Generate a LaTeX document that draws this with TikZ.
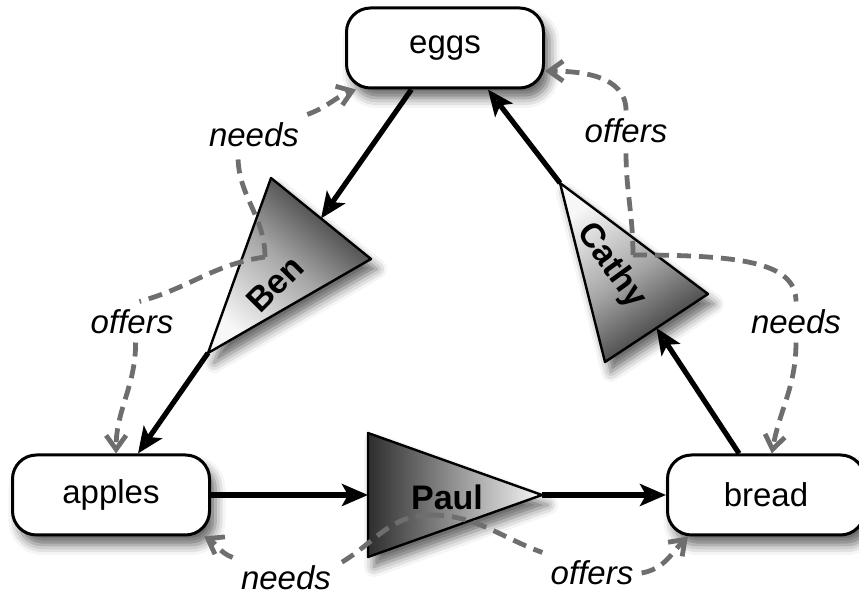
\documentclass[tikz,border=0pt]{standalone}
\usepackage{fontspec}
\setmainfont{Liberation Sans}
\usetikzlibrary{positioning,arrows.meta,shadows.blur}

\begin{document}
\begin{tikzpicture}[
  x=0.5pt, y=0.5pt,
  % Node Styles
  goods/.style={rectangle, rounded corners=12pt, draw, line width=1.5pt, fill=white, minimum width=98.5pt, minimum height=40pt, align=center, font=\fontsize{16.5}{19}\selectfont, blur shadow={shadow xshift=3pt, shadow yshift=-5pt, shadow blur radius=5pt, shadow opacity=60}},
  trader/.style={draw, line width=1.2pt, line join=round, blur shadow={shadow xshift=3pt, shadow yshift=-5pt, shadow blur radius=5pt, shadow opacity=60}},
  tradername/.style={font=\fontsize{17}{20}\selectfont\bfseries, inner sep=0pt},
  role/.style={font=\fontsize{16.5}{19}\selectfont\itshape, inner sep=4pt},
  % Arrow Styles
  flow/.style={-{Stealth[length=13pt, width=11pt, inset=3pt]}, line width=2.6pt},
  link/.style={draw=black!57, line width=2.4pt, dash pattern=on 7pt off 4pt},
  linkto/.style={link, -{Straight Barb[length=7pt, width=10pt]}},
]
\useasboundingbox (0,0) rectangle (859,594);

% goods
\node[goods] (eggs) at (445,546) {eggs};
\node[goods] (apples) at (111,99) {apples};
\node[goods] (bread) at (766,99) {bread};

% traders
\coordinate (ben-a) at (271,416);
\coordinate (ben-b) at (371,335);
\coordinate (ben-tip) at (208,241);
\coordinate (ben-in) at (321,375.5);
\shade[trader, top color=black!82, bottom color=black!3, middle color=black!35, shading angle=-40] (ben-a) -- (ben-b) -- (ben-tip) -- cycle;

\coordinate (paul-a) at (368,161);
\coordinate (paul-b) at (368,37);
\coordinate (paul-tip) at (542,99);
\coordinate (paul-in) at (368,99);
\shade[trader, left color=black!82, right color=black!3] (paul-a) -- (paul-b) -- (paul-tip) -- cycle;

\coordinate (cathy-a) at (708,300);
\coordinate (cathy-b) at (605,232);
\coordinate (cathy-tip) at (560,411);
\coordinate (cathy-in) at (656.5,266);
\shade[trader, top color=black!82, bottom color=black!3, middle color=black!35, shading angle=-146] (cathy-a) -- (cathy-b) -- (cathy-tip) -- cycle;

\node[tradername, rotate=45] (ben) at (275,310) {Ben};
\node[tradername] (paul) at (447,97) {Paul};
\node[tradername, rotate=-54] (cathy) at (611,328) {Cathy};

% needs and offers
\coordinate (ben-hub) at (265,337);
\coordinate (paul-hub) at (430,79);
\coordinate (cathy-hub) at (633,339);

\node[role] (ben-needs) at (254,459) {needs};
\node[role] (ben-offers) at (132,272) {offers};
\node[role] (paul-needs) at (286,16) {needs};
\node[role] (paul-offers) at (592,21) {offers};
\node[role] (cathy-offers) at (626,463) {offers};
\node[role] (cathy-needs) at (796,272) {needs};

\draw[link] (ben-hub) to[out=90, in=-90] (ben-needs.232);
\draw[linkto] (ben-needs.north east) to[out=20, in=200] (eggs.205);
\draw[link] (ben-hub) to[out=188, in=15] (ben-offers.70);
\draw[linkto] (ben-offers.-80) to[out=-90, in=90] (apples.83);

\draw[link] (paul-hub) to[out=180, in=30] (paul-needs.15);
\draw[linkto] (paul-needs.north west) to[out=160, in=-30] (apples.-24);
\draw[link] (paul-hub) to[out=0, in=160] (paul-offers.north west);
\draw[linkto] (paul-offers.east) to[out=10, in=225] (bread.208);

\draw[link] (cathy-hub) to[out=90, in=-90] (cathy-offers.south);
\draw[linkto] (cathy-offers.north) to[out=90, in=0] (eggs.-13);
\draw[link] (cathy-hub) to[out=0, in=90, out looseness=1.6, in looseness=0.6] (cathy-needs.north);
\draw[linkto] (cathy-needs.south) to[out=-90, in=80] (bread.82);

% flows
\draw[flow] (eggs.-129) -- (ben-in);
\draw[flow] (ben-tip) -- (apples.57);
\draw[flow] (apples.east) -- (paul-in);
\draw[flow] (paul-tip) -- (bread.west);
\draw[flow] (bread.123) -- (cathy-in);
\draw[flow] (cathy-tip) -- (eggs.-44);

\end{tikzpicture}
\end{document}
